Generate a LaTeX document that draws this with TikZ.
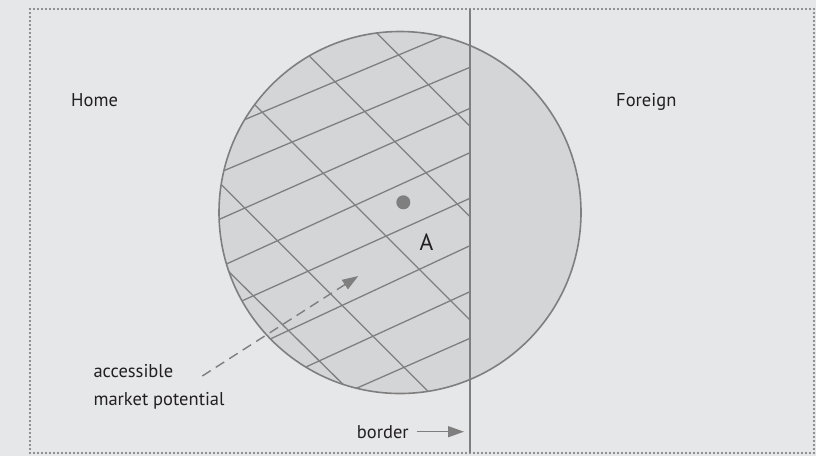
\documentclass[tikz,border=0pt]{standalone}
\usepackage{fontspec}
\setmainfont{PT Sans}
\usetikzlibrary{arrows.meta}
\definecolor{bg}{HTML}{E6E7E9}
\definecolor{fillc}{HTML}{D4D5D7}
\definecolor{linec}{HTML}{7F7F7F}
\definecolor{txt}{HTML}{231F20}
\tikzset{
  frame/.style={draw=linec!90!black, line width=2.1pt, dash pattern=on 0pt off 4pt, line cap=round},
  hatch/.style={draw=linec, line width=1.3pt},
  outline/.style={draw=linec, line width=1.6pt},
  lbl/.style={text=txt, font=\fontsize{18.5pt}{20pt}\selectfont, inner sep=0pt, anchor=base west},
  pointer/.style={draw=linec, line width=1.4pt, -{Triangle[length=16pt,width=11pt]}},
}
\begin{document}
\begin{tikzpicture}[x=1pt,y=-1pt]
\fill[bg] (0,0) rectangle (816,456);
\useasboundingbox (0,0) rectangle (816,456);
\draw[frame] (30,9) rectangle (814,453);
\coordinate (C) at (400,212.5);
\fill[fillc] (C) circle (181pt);
\begin{scope}
  \clip (C) circle (181pt);
  \clip (0,0) rectangle (470,456);
  % family 1 (rising to the right)
  \draw[hatch] (200,138.4) -- (480,20.8);
  \draw[hatch] (200,180.7) -- (480,63.1);
  \draw[hatch] (200,227.9) -- (480,103.9);
  \draw[hatch] (200,276.1) -- (480,148.1);
  \draw[hatch] (200,319.8) -- (480,193.8);
  \draw[hatch] (200,371.8) -- (480,241.0);
  \draw[hatch] (200,415.6) -- (480,287.1);
  \draw[hatch] (200,457.1) -- (480,333.9);
  % family 2 (falling to the right)
  \draw[hatch] (200,-143.7) -- (480,136.3);
  \draw[hatch] (200,-53.3) -- (480,226.7);
  \draw[hatch] (200,50) -- (480,330);
  \draw[hatch] (200,163.3) -- (480,443.3);
  \draw[hatch] (200,243.3) -- (480,519.3);
\end{scope}
\draw[outline] (C) circle (181pt);
\coordinate (btop) at (469.5,9);
\coordinate (bbot) at (469.5,453);
\draw[draw=linec, line width=2pt] (btop) -- (bbot);
\fill[linec] (403.3,202.3) circle (7pt);
\node[lbl] (home) at (71,106) {Home};
\node[lbl] (foreign) at (616,106.5) {Foreign};
\node[lbl] (acc) at (93.3,377.3) {accessible};
\node[lbl] (mkt) at (93.3,405) {market potential};
\node[lbl] (border) at (356.7,438.3) {border};
\node[lbl, font=\fontsize{23.5pt}{25pt}\selectfont] (A) at (419.5,250) {A};
\coordinate (accTip) at (358.3,276);
\coordinate (accStart) at (202.3,376);
\draw[pointer, dash pattern=on 10pt off 6pt] (accStart) -- (accTip);
\coordinate (bStart) at (416.7,431.7);
\coordinate (bTip) at (464,431.7);
\draw[pointer] (bStart) -- (bTip);
\end{tikzpicture}
\end{document}
